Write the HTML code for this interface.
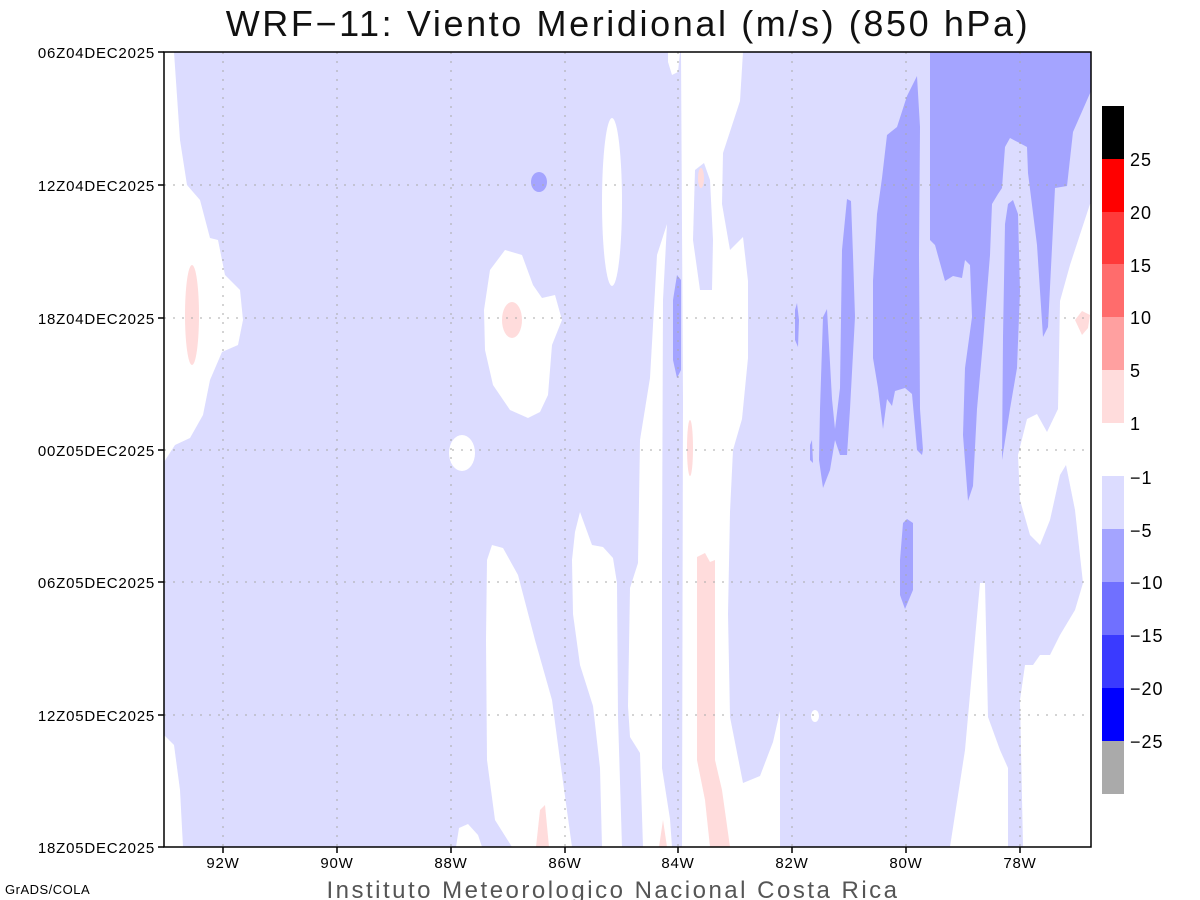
<!DOCTYPE html>
<html><head><meta charset="utf-8"><style>
html,body{margin:0;padding:0;background:#fff;}
svg{display:block;}
text{font-family:"Liberation Sans",sans-serif;}
</style></head><body>
<svg width="1200" height="900" viewBox="0 0 1200 900" xmlns="http://www.w3.org/2000/svg">
<rect width="1200" height="900" fill="#fff"/>
<defs><clipPath id="c"><rect x="164" y="52" width="927" height="795"/></clipPath></defs>
<g clip-path="url(#c)">
<rect x="164" y="52" width="927" height="795" fill="#dcdcff"/>
<g fill="#fff">
<path d="M164,52 L174,52 L180,140 L187,185 L200,200 L210,238 L218,240 L225,275 L240,290 L243,320 L238,345 L222,352 L210,380 L203,415 L190,438 L175,445 L164,462 Z"/>
<path d="M164,735 L174,745 L180,790 L183,847 L164,847 Z"/>
<path d="M490,270 L505,250 L522,255 L533,285 L542,298 L555,295 L562,320 L552,345 L548,395 L540,412 L528,418 L510,410 L493,385 L485,350 L484,310 Z"/>
<ellipse cx="462" cy="453" rx="13" ry="18"/>
<path d="M487,560 L492,545 L503,548 L518,575 L535,640 L552,700 L560,760 L572,847 L512,847 L495,820 L487,760 L486,640 Z"/>
<path d="M456,847 L459,828 L468,824 L478,835 L482,847 Z"/>
<path d="M575,532 L580,512 L592,545 L603,547 L613,558 L617,583 L618,717 L622,847 L602,847 L600,768 L593,706 L580,665 L573,614 L572,560 Z"/>
<ellipse cx="612" cy="202" rx="10" ry="84"/>
<path d="M667,224 L657,255 L650,378 L640,440 L638,563 L630,588 L628,706 L630,737 L640,753 L643,847 L672,847 L670,819 L662,768 L662,560 L663,300 Z"/>
<path d="M668,52 L680,52 L678,72 L672,75 L668,62 Z"/>
<path d="M681,52 L743,52 L740,101 L723,153 L722,204 L730,250 L743,237 L748,281 L748,358 L742,419 L733,450 L730,512 L728,614 L730,717 L743,783 L760,776 L773,742 L780,711 L780,847 L682,847 L683,400 Z"/>
<path d="M1090,204 L1070,265 L1060,301 L1058,409 L1047,432 L1037,414 L1027,419 L1018,455 L1020,500 L1030,535 L1040,545 L1050,520 L1060,475 L1066,465 L1075,510 L1083,583 L1075,610 L1060,635 L1050,655 L1040,655 L1033,665 L1025,665 L1020,700 L1023,847 L1091,847 L1091,204 Z"/>
<path d="M980,583 L985,583 L988,717 L1000,750 L1008,768 L1008,847 L950,847 L965,750 Z"/>
<ellipse cx="815" cy="716" rx="4" ry="6"/>
</g>
<path d="M695,170 L704,163 L710,180 L713,240 L712,290 L700,290 L693,240 Z" fill="#dcdcff"/>
<g fill="#ffdcdc">
<ellipse cx="192" cy="315" rx="7" ry="50"/>
<ellipse cx="512" cy="320" rx="10" ry="18"/>
<path d="M697,557 L705,553 L710,562 L715,560 L715,760 L722,790 L730,847 L710,847 L705,800 L697,760 Z"/>
<ellipse cx="690" cy="448" rx="3" ry="28"/>
<ellipse cx="701" cy="178" rx="3" ry="10"/>
<path d="M536,847 L540,810 L545,805 L549,847 Z"/>
<path d="M659,847 L663,820 L667,847 Z"/>
<path d="M1075,320 L1082,311 L1090,315 L1088,328 L1082,335 Z"/>
</g>
<g fill="#a4a4ff">
<path d="M930,52 L930,240 L935,245 L945,281 L953,276 L962,278 L965,260 L970,265 L972,317 L965,368 L963,435 L968,501 L973,486 L977,409 L983,342 L990,255 L992,204 L998,194 L1002,188 L1005,147 L1010,138 L1027,147 L1028,173 L1037,245 L1043,337 L1048,327 L1055,188 L1067,186 L1073,132 L1091,91 L1091,52 Z"/>
<path d="M1005,224 L1008,204 L1013,200 L1018,214 L1020,291 L1017,368 L1010,409 L1002,460 L1003,337 Z"/>
<path d="M917,76 L907,96 L897,127 L887,135 L882,178 L877,214 L873,281 L873,358 L878,388 L883,429 L887,399 L892,406 L895,391 L905,388 L912,394 L917,450 L922,455 L923,450 L920,409 L919,255 L920,127 Z"/>
<path d="M842,250 L847,199 L851,201 L853,255 L855,317 L850,409 L847,455 L840,455 L835,440 L830,470 L823,488 L819,460 L820,409 L823,317 L827,309 L832,399 L835,429 L840,388 Z"/>
<path d="M795,310 L797,303 L799,320 L798,347 L795,340 Z"/>
<path d="M810,445 L812,440 L813,463 L810,460 Z"/>
<path d="M900,560 L903,523 L907,519 L913,523 L913,590 L905,609 L900,595 Z"/>
<path d="M673,300 L677,275 L681,280 L681,370 L677,378 L673,360 Z"/>
<ellipse cx="539" cy="182" rx="8" ry="10"/>
</g>
</g>
<g stroke="#aaa" stroke-width="1" stroke-dasharray="2,7" fill="none">
<line x1="223" y1="52" x2="223" y2="847"/><line x1="337" y1="52" x2="337" y2="847"/><line x1="451" y1="52" x2="451" y2="847"/><line x1="565" y1="52" x2="565" y2="847"/><line x1="678" y1="52" x2="678" y2="847"/><line x1="792" y1="52" x2="792" y2="847"/><line x1="906" y1="52" x2="906" y2="847"/><line x1="1020" y1="52" x2="1020" y2="847"/>
<line x1="164" y1="185" x2="1091" y2="185"/><line x1="164" y1="318" x2="1091" y2="318"/><line x1="164" y1="450" x2="1091" y2="450"/><line x1="164" y1="582" x2="1091" y2="582"/><line x1="164" y1="715" x2="1091" y2="715"/>
</g>
<rect x="164" y="52" width="927" height="795" fill="none" stroke="#000" stroke-width="1.5"/>
<g stroke="#000" stroke-width="1.5">
<line x1="158" y1="52" x2="164" y2="52"/><line x1="158" y1="185" x2="164" y2="185"/><line x1="158" y1="318" x2="164" y2="318"/><line x1="158" y1="450" x2="164" y2="450"/><line x1="158" y1="582" x2="164" y2="582"/><line x1="158" y1="715" x2="164" y2="715"/><line x1="158" y1="847" x2="164" y2="847"/>
<line x1="223" y1="847" x2="223" y2="853"/><line x1="337" y1="847" x2="337" y2="853"/><line x1="451" y1="847" x2="451" y2="853"/><line x1="565" y1="847" x2="565" y2="853"/><line x1="678" y1="847" x2="678" y2="853"/><line x1="792" y1="847" x2="792" y2="853"/><line x1="906" y1="847" x2="906" y2="853"/><line x1="1020" y1="847" x2="1020" y2="853"/>
</g>
<g font-size="15" text-anchor="end" fill="#000" letter-spacing="0.8">
<text x="155" y="58">06Z04DEC2025</text><text x="155" y="191">12Z04DEC2025</text><text x="155" y="324">18Z04DEC2025</text><text x="155" y="456">00Z05DEC2025</text><text x="155" y="588">06Z05DEC2025</text><text x="155" y="721">12Z05DEC2025</text><text x="155" y="853">18Z05DEC2025</text>
</g>
<g font-size="15" text-anchor="middle" fill="#000" letter-spacing="0.8">
<text x="223" y="868">92W</text><text x="337" y="868">90W</text><text x="451" y="868">88W</text><text x="565" y="868">86W</text><text x="678" y="868">84W</text><text x="792" y="868">82W</text><text x="906" y="868">80W</text><text x="1020" y="868">78W</text>
</g>
<text x="628" y="36" font-size="36" text-anchor="middle" fill="#111" letter-spacing="2.6">WRF−11: Viento Meridional (m/s) (850 hPa)</text>
<text x="613" y="898" font-size="24" text-anchor="middle" fill="#555" letter-spacing="2.5">Instituto Meteorologico Nacional Costa Rica</text>
<text x="5" y="894" font-size="13" fill="#000" letter-spacing="0.5">GrADS/COLA</text>
<rect x="1102" y="106" width="22" height="53" fill="#000"/>
<rect x="1102" y="159" width="22" height="53" fill="#ff0000"/>
<rect x="1102" y="212" width="22" height="52" fill="#ff3a3a"/>
<rect x="1102" y="264" width="22" height="53" fill="#ff6c6c"/>
<rect x="1102" y="317" width="22" height="53" fill="#ffa0a0"/>
<rect x="1102" y="370" width="22" height="53" fill="#ffdcdc"/>
<rect x="1102" y="476" width="22" height="53" fill="#dcdcff"/>
<rect x="1102" y="529" width="22" height="53" fill="#a4a4ff"/>
<rect x="1102" y="582" width="22" height="53" fill="#7070ff"/>
<rect x="1102" y="635" width="22" height="53" fill="#3a3aff"/>
<rect x="1102" y="688" width="22" height="53" fill="#0000ff"/>
<rect x="1102" y="741" width="22" height="53" fill="#aaaaaa"/>
<g font-size="18" fill="#000" letter-spacing="1">
<text x="1130" y="166">25</text><text x="1130" y="219">20</text><text x="1130" y="272">15</text><text x="1130" y="324">10</text><text x="1130" y="377">5</text><text x="1130" y="430">1</text>
<text x="1130" y="484">−1</text><text x="1130" y="537">−5</text><text x="1130" y="589">−10</text><text x="1130" y="642">−15</text><text x="1130" y="695">−20</text><text x="1130" y="748">−25</text>
</g>
</svg>
</body></html>
